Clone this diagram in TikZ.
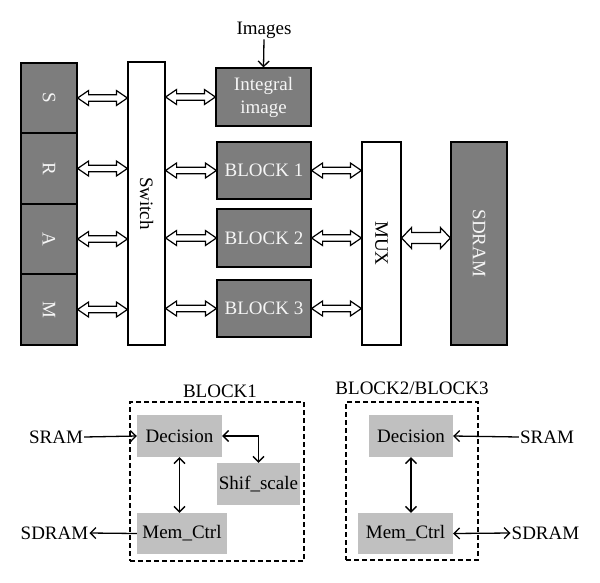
\documentclass[tikz,border=0pt]{standalone}
\usepackage{fontspec}
\setmainfont{Liberation Serif}
\usepackage{graphicx}
\usetikzlibrary{arrows.meta,calc}
\definecolor{boxgray}{RGB}{125,125,125}
\definecolor{lightbox}{RGB}{192,192,192}
\definecolor{boxtext}{RGB}{245,245,245}
\tikzset{
  txt/.style={font=\fontsize{19}{23}\selectfont, inner sep=1pt},
  darkbox/.style={txt, draw=black, line width=1.2pt, fill=boxgray, text=boxtext, inner sep=0pt, align=center},
  whitebox/.style={txt, draw=black, line width=1.2pt, fill=white, inner sep=0pt},
  lightnode/.style={txt, fill=lightbox, inner sep=0pt},
  dashbox/.style={draw=black, line width=1.2pt, dash pattern=on 5pt off 3pt, inner sep=0pt},
  dblarr/.style n args={3}{draw=black, fill=white, line width=1.2pt, line join=miter,
    to path={let \p1=(\tikztostart), \p2=(\tikztotarget) in
      (\x1,\y1) -- (\x1+#1,\y1+#2) -- (\x1+#1,\y1+#3) -- (\x2-#1,\y1+#3) -- (\x2-#1,\y1+#2)
      -- (\x2,\y1) -- (\x2-#1,\y1-#2) -- (\x2-#1,\y1-#3) -- (\x1+#1,\y1-#3) -- (\x1+#1,\y1-#2) -- cycle}},
  sarr/.style={dblarr={11pt}{7.5pt}{3.2pt}},
  barr/.style={dblarr={10pt}{10.5pt}{5.5pt}},
  conn/.style={line width=1.3pt, draw=black},
  tipL/.tip={Straight Barb[length=5.5pt,width=11pt,line width=1.3pt]},
}
\begin{document}
\begin{tikzpicture}[x=1pt,y=-1pt]
\useasboundingbox (0,0) rectangle (600,582);
% SRAM column
\node[darkbox, minimum width=56, minimum height=70] (S) at (49,98) {\rotatebox{-90}{S}};
\node[darkbox, minimum width=56, minimum height=71] (R) at (49,168.5) {\rotatebox{-90}{R}};
\node[darkbox, minimum width=56, minimum height=70] (A) at (49,239) {\rotatebox{-90}{A}};
\node[darkbox, minimum width=56, minimum height=71] (M) at (49,309.5) {\rotatebox{-90}{M}};
% Switch
\node[whitebox, minimum width=37, minimum height=283] (sw) at (146.5,203.5) {\rotatebox{-90}{Switch}};
% right blocks
\node[darkbox, minimum width=95, minimum height=58] (int) at (263.5,97) {Integral\\image};
\node[darkbox, minimum width=94, minimum height=57] (b1) at (264,170.5) {BLOCK 1};
\node[darkbox, minimum width=94, minimum height=58] (b2) at (264,238) {BLOCK 2};
\node[darkbox, minimum width=94, minimum height=57] (b3) at (264,308.5) {BLOCK 3};
\node[whitebox, minimum width=39, minimum height=203] (mux) at (381.5,243.5) {\rotatebox{-90}{MUX}};
\node[darkbox, minimum width=56, minimum height=203] (sdram) at (479,243.5) {\rotatebox{-90}{SDRAM}};
\node[txt] (img) at (264,30) {Images};
% top arrows
\draw[conn, -tipL] (img.south) -- (int.north);
\path (S.east) edge[sarr] (S.east -| sw.west);
\path (R.east) edge[sarr] (R.east -| sw.west);
\path (A.east) edge[sarr] (A.east -| sw.west);
\path (M.east) edge[sarr] (M.east -| sw.west);
\path (sw.east |- int.west) edge[sarr] (int.west);
\path (sw.east |- b1.west) edge[sarr] (b1.west);
\path (sw.east |- b2.west) edge[sarr] (b2.west);
\path (sw.east |- b3.west) edge[sarr] (b3.west);
\path (b1.east) edge[sarr] (b1.east -| mux.west);
\path (b2.east) edge[sarr] (b2.east -| mux.west);
\path (b3.east) edge[sarr] (b3.east -| mux.west);
\path (mux.east |- b2.east) edge[barr] (sdram.west |- b2.east);
% BLOCK1 detail
\node[dashbox, minimum width=174, minimum height=159] (blk1) at (217,481.5) {};
\node[txt] (lbl1) at (220,391) {BLOCK1};
\node[lightnode, minimum width=85, minimum height=42] (d1) at (179.5,436) {Decision};
\node[lightnode, minimum width=83, minimum height=42] (sh) at (258.5,484) {Shif\_scale};
\node[lightnode, minimum width=90, minimum height=41] (m1) at (182,533.5) {Mem\_Ctrl};
\node[txt] (sramL) at (56,437) {SRAM};
\node[txt] (sdramL) at (54.5,533) {SDRAM};
\draw[conn, -tipL] (sramL.east) -- (d1.west);
\draw[conn, tipL-tipL] (d1.east) -| (sh.north);
\draw[conn, tipL-tipL] (d1.south) -- (d1.south |- m1.north);
\draw[conn, -tipL] (m1.west) -- (sdramL.east);
% BLOCK2/BLOCK3 detail
\node[dashbox, minimum width=132, minimum height=158] (blk2) at (412,481) {};
\node[txt] (lbl2) at (412,388) {BLOCK2/BLOCK3};
\node[lightnode, minimum width=84, minimum height=42] (d2) at (411,436) {Decision};
\node[lightnode, minimum width=95, minimum height=41] (m2) at (405.5,533.5) {Mem\_Ctrl};
\node[txt] (sramR) at (547,437) {SRAM};
\node[txt] (sdramR) at (545.5,533) {SDRAM};
\draw[conn, -tipL] (sramR.west) -- (d2.east);
\draw[conn, tipL-tipL] (d2.south) -- (d2.south |- m2.north);
\draw[conn, tipL-tipL] (m2.east) -- (sdramR.west);
\end{tikzpicture}
\end{document}
